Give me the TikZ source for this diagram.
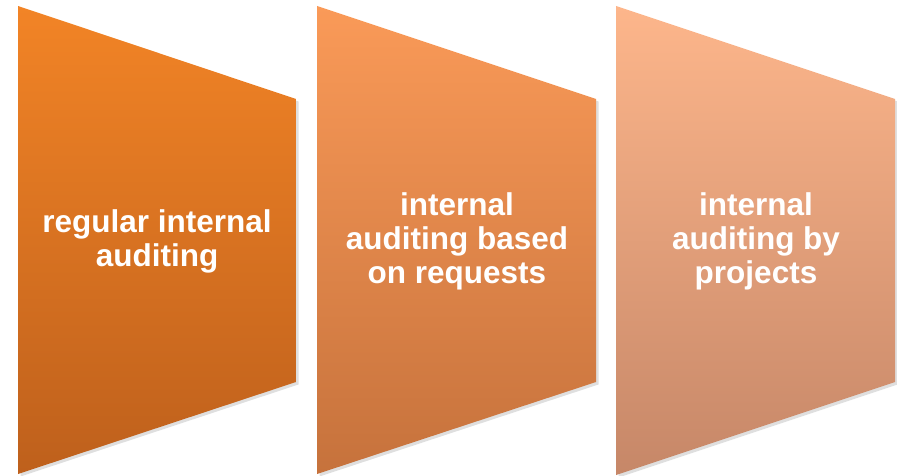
\documentclass[tikz,border=0pt]{standalone}
\usepackage{fontspec}
\setmainfont{Liberation Sans}
\usetikzlibrary{shadows}
\definecolor{oneTop}{RGB}{242,132,38}
\definecolor{oneBot}{RGB}{190,96,28}
\definecolor{twoTop}{RGB}{250,154,88}
\definecolor{twoBot}{RGB}{198,114,60}
\definecolor{threeTop}{RGB}{253,182,139}
\definecolor{threeBot}{RGB}{198,135,104}
\tikzset{
  chevronbox/.style={drop shadow={opacity=0.25,shadow xshift=2.5pt,shadow yshift=-2.5pt}},
  labeltext/.style={text=white,font=\fontsize{31.5}{34}\selectfont\bfseries,align=center,inner sep=0pt}
}
\begin{document}
\begin{tikzpicture}[x=1pt,y=-1pt]
\useasboundingbox (0,0) rectangle (897,476);
\path[chevronbox,top color=oneTop,bottom color=oneBot]
  (18,6) -- (296,99) -- (296,382) -- (18,474) -- cycle;
\path[chevronbox,top color=twoTop,bottom color=twoBot]
  (317,6) -- (596,99) -- (596,382) -- (317,474) -- cycle;
\path[chevronbox,top color=threeTop,bottom color=threeBot]
  (616,6) -- (895,99) -- (895,382) -- (616,475) -- cycle;
\node[labeltext] (t1) at (157,241) {regular internal\\auditing};
\node[labeltext] (t2) at (457,241) {internal\\auditing based\\on requests};
\node[labeltext] (t3) at (756,241) {internal\\auditing by\\projects};
\end{tikzpicture}
\end{document}
